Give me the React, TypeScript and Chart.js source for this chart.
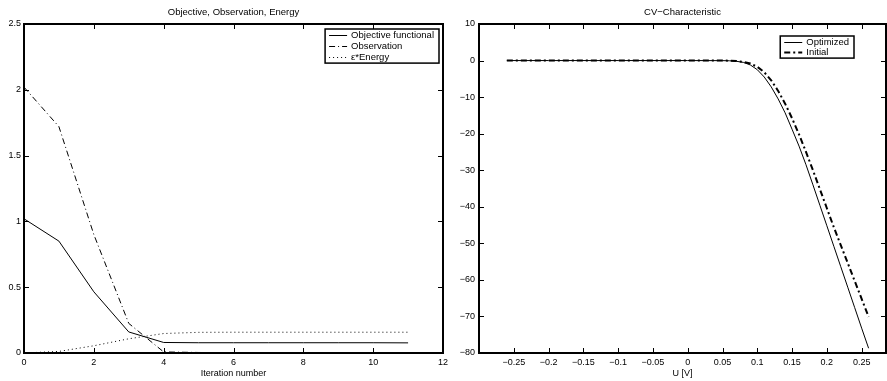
import React, { useEffect, useRef } from "react";
import { Chart, registerables } from "chart.js";
Chart.register(...registerables);

// ---------- Left chart data ----------
const iterations = [0, 1, 2, 3, 4, 5, 6, 7, 8, 9, 10, 11];
const objectiveFunctional = [1.02, 0.85, 0.465, 0.16, 0.08, 0.078, 0.078, 0.078, 0.078, 0.078, 0.078, 0.077];
const observation = [2.02, 1.72, 0.9, 0.225, 0.008, 0.004, 0.002, 0.002, 0.002, 0.002, 0.002, 0.002];
const energy = [0, 0.012, 0.055, 0.108, 0.148, 0.157, 0.158, 0.158, 0.158, 0.158, 0.158, 0.158];
const leftXTicks = [0, 2, 4, 6, 8, 10, 12];
const leftXTickLabels = ["0", "2", "4", "6", "8", "10", "12"];
const leftYTicks = [0, 0.5, 1, 1.5, 2, 2.5];
const leftYTickLabels = ["0", "0.5", "1", "1.5", "2", "2.5"];

// ---------- Right chart data ----------
const voltage = [-0.26, -0.2, -0.1, 0, 0.05, 0.06, 0.07, 0.08, 0.09, 0.1, 0.11, 0.12, 0.13, 0.14, 0.15, 0.16, 0.17, 0.18, 0.19, 0.2, 0.21, 0.22, 0.23, 0.24, 0.25, 0.26];
const optimizedCurrent = [0, 0, 0, 0, -0.02, -0.06, -0.2, -0.5, -1.2, -2.5, -4.5, -7.2, -10.5, -14.3, -18.8, -23.4, -28.5, -34, -39.6, -45.2, -50.8, -56.4, -62, -67.6, -73.2, -78.7];
const initialCurrent = [0, 0, 0, 0, 0, -0.03, -0.12, -0.35, -0.8, -1.7, -3.2, -5.4, -8.3, -11.8, -15.8, -20.2, -25, -30, -35.2, -40.4, -45.6, -50.5, -55.4, -60.3, -65.2, -70.1];
const rightXTicks = [-0.25, -0.2, -0.15, -0.1, -0.05, 0, 0.05, 0.1, 0.15, 0.2, 0.25];
const rightXTickLabels = ["\u22120.25", "\u22120.2", "\u22120.15", "\u22120.1", "\u22120.05", "0", "0.05", "0.1", "0.15", "0.2", "0.25"];
const rightYTicks = [-80, -70, -60, -50, -40, -30, -20, -10, 0, 10];
const rightYTickLabels = ["\u221280", "\u221270", "\u221260", "\u221250", "\u221240", "\u221230", "\u221220", "\u221210", "0", "10"];

const FAMILY = "'Liberation Sans', Arial, Helvetica, sans-serif";
const tickFont = { family: FAMILY, size: 9 };

const framePlugin = {
  id: "matlabFrame",
  afterDraw(chart: any, _args: any, opts: any) {
    const { ctx, chartArea: a, scales } = chart;
    const xs = scales.x;
    const ys = scales.y;
    ctx.save();
    ctx.strokeStyle = "#000";
    ctx.lineWidth = 1;
    const tl = opts.tickLen || 5;
    ctx.beginPath();
    xs.ticks.forEach((t: any) => {
      const px = Math.round(xs.getPixelForValue(t.value)) + 0.5;
      ctx.moveTo(px, a.bottom);
      ctx.lineTo(px, a.bottom - tl);
      ctx.moveTo(px, a.top);
      ctx.lineTo(px, a.top + tl);
    });
    ys.ticks.forEach((t: any) => {
      const py = Math.round(ys.getPixelForValue(t.value)) + 0.5;
      ctx.moveTo(a.left, py);
      ctx.lineTo(a.left + tl, py);
      ctx.moveTo(a.right, py);
      ctx.lineTo(a.right - tl, py);
    });
    ctx.stroke();
    ctx.lineWidth = 2;
    ctx.strokeRect(a.left, a.top, a.right - a.left, a.bottom - a.top);

    // legend
    const ds = chart.data.datasets;
    ctx.font = "9.5px " + FAMILY;
    let maxW = 0;
    ds.forEach((d: any) => {
      maxW = Math.max(maxW, ctx.measureText(d.label).width);
    });
    const sample = 18;
    const boxW = 4 + sample + 4 + maxW + 5;
    const rowH = opts.rowH || 11.3;
    const boxH = 5.5 + (ds.length - 1) * rowH + 6;
    const right = a.right - opts.legendRight;
    const left = right - boxW;
    const top = a.top + opts.legendTop;
    ctx.fillStyle = "#fff";
    ctx.fillRect(left, top, boxW, boxH);
    ctx.lineWidth = 1.5;
    ctx.strokeRect(left, top, boxW, boxH);
    ctx.textBaseline = "middle";
    ctx.textAlign = "left";
    ds.forEach((d: any, i: number) => {
      const cy = Math.round(top + 5.5 + i * rowH) + 0.5;
      ctx.beginPath();
      ctx.lineWidth = d.borderWidth || 1;
      ctx.setLineDash(d.borderDash || []);
      ctx.moveTo(left + 4, cy);
      ctx.lineTo(left + 4 + sample, cy);
      ctx.stroke();
      ctx.setLineDash([]);
      ctx.fillStyle = "#000";
      ctx.fillText(d.label, left + 4 + sample + 4, cy);
    });
    ctx.restore();
  },
};

function makeOptions(p: any) {
  return {
    animation: false,
    responsive: false,
    maintainAspectRatio: false,
    layout: { padding: { left: 0, right: p.padRight, top: 0, bottom: 0 } },
    plugins: {
      legend: { display: false },
      tooltip: { enabled: false },
      title: {
        display: true,
        text: p.title,
        color: "#000",
        fullSize: false,
        font: { family: FAMILY, size: 9.5, weight: "normal" },
        padding: { top: 7, bottom: 5.6 },
      },
      matlabFrame: { legendRight: p.legendRight, legendTop: p.legendTop, rowH: p.rowH, tickLen: 5 },
    },
    scales: {
      x: {
        type: "linear",
        min: p.xMin,
        max: p.xMax,
        grid: { display: false, drawTicks: false },
        border: { display: false },
        afterBuildTicks: (s: any) => {
          s.ticks = p.xTicks.map((v: number) => ({ value: v }));
        },
        ticks: {
          color: "#000",
          font: tickFont,
          padding: 4,
          maxRotation: 0,
          autoSkip: false,
          callback: (_v: any, i: number) => p.xLabels[i],
        },
        title: {
          display: true,
          text: p.xTitle,
          color: "#000",
          font: tickFont,
          padding: { top: 0, bottom: 2 },
        },
        afterFit: (s: any) => {
          s.height = 28;
        },
      },
      y: {
        type: "linear",
        min: p.yMin,
        max: p.yMax,
        grid: { display: false, drawTicks: false },
        border: { display: false },
        afterBuildTicks: (s: any) => {
          s.ticks = p.yTicks.map((v: number) => ({ value: v }));
        },
        ticks: {
          color: "#000",
          font: tickFont,
          padding: p.yPad,
          autoSkip: false,
          callback: (_v: any, i: number) => p.yLabels[i],
        },
        afterFit: (s: any) => {
          s.width = p.yWidth;
        },
      },
    },
  };
}

function line(label: string, xs: number[], ys: number[], dash: number[], width: number) {
  return {
    label,
    data: xs.map((x, i) => ({ x, y: ys[i] })),
    borderColor: "#000",
    backgroundColor: "#000",
    borderWidth: width,
    borderDash: dash,
    pointRadius: 0,
    fill: false,
    tension: 0,
  };
}

export default function App() {
  const leftRef = useRef<HTMLCanvasElement>(null);
  const rightRef = useRef<HTMLCanvasElement>(null);

  useEffect(() => {
    const c1 = new Chart(leftRef.current as HTMLCanvasElement, {
      type: "line",
      data: {
        datasets: [
          line("Objective functional", iterations, objectiveFunctional, [], 1),
          line("Observation", iterations, observation, [6, 3, 1, 3], 1),
          line("\u03b5*Energy", iterations, energy, [1, 3], 1),
        ],
      },
      options: makeOptions({
        title: "Objective, Observation, Energy",
        padRight: 12,
        xMin: 0,
        xMax: 12,
        xTicks: leftXTicks,
        xLabels: leftXTickLabels,
        xTitle: "Iteration number",
        yMin: 0,
        yMax: 2.5,
        yTicks: leftYTicks,
        yLabels: leftYTickLabels,
        yPad: 3,
        yWidth: 24,
        legendRight: 4,
        legendTop: 5,
        rowH: 11.3,
      }) as any,
      plugins: [framePlugin],
    });
    const c2 = new Chart(rightRef.current as HTMLCanvasElement, {
      type: "line",
      data: {
        datasets: [
          line("Optimized", voltage, optimizedCurrent, [], 1),
          line("Initial", voltage, initialCurrent, [6, 3, 2, 3], 2),
        ],
      },
      options: makeOptions({
        title: "CV\u2212Characteristic",
        padRight: 1,
        xMin: -0.3,
        xMax: 0.285,
        xTicks: rightXTicks,
        xLabels: rightXTickLabels,
        xTitle: "U [V]",
        yMin: -80,
        yMax: 10,
        yTicks: rightYTicks,
        yLabels: rightYTickLabels,
        yPad: 4,
        yWidth: 34,
        legendRight: 32,
        legendTop: 12,
        rowH: 10.6,
      }) as any,
      plugins: [framePlugin],
    });
    return () => {
      c1.destroy();
      c2.destroy();
    };
  }, []);

  return (
    <div style={{ position: "fixed", left: 0, top: 0, width: 887, height: 381, overflow: "hidden", background: "#fff" }}>
      <div style={{ position: "absolute", left: 0, top: 0 }}>
        <canvas ref={leftRef} width={455} height={381} style={{ display: "block" }} />
      </div>
      <div style={{ position: "absolute", left: 445, top: 0 }}>
        <canvas ref={rightRef} width={442} height={381} style={{ display: "block" }} />
      </div>
    </div>
  );
}
